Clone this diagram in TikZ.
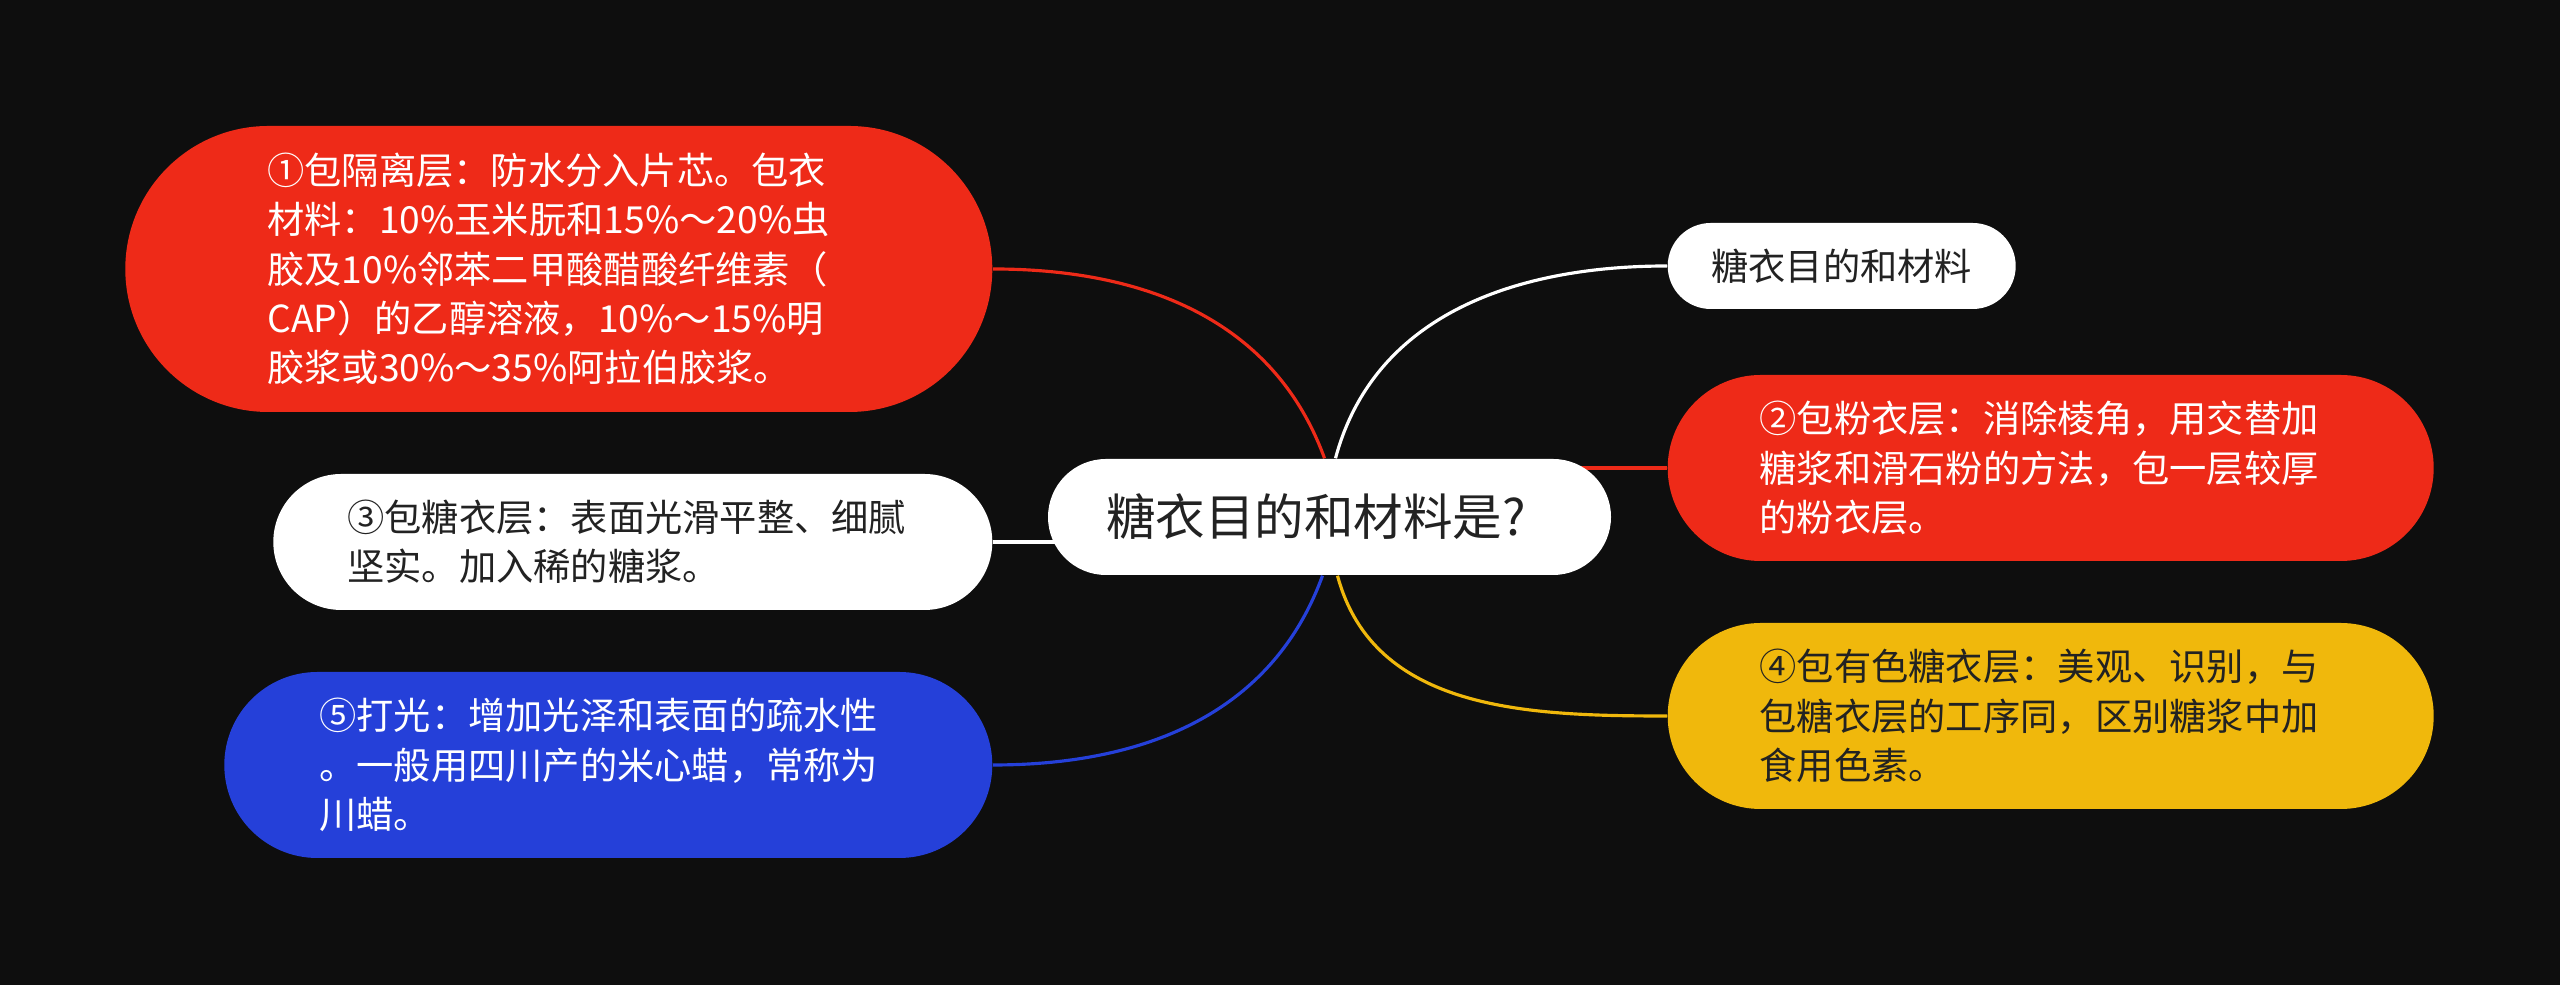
\documentclass[tikz,border=0pt]{standalone}
\usepackage{fontspec}
\newfontfamily\cjk{Noto Sans CJK SC}
\usetikzlibrary{positioning}

\definecolor{bgblack}{RGB}{14,14,14}
\definecolor{mapred}{RGB}{238,42,24}
\definecolor{mapblue}{RGB}{37,64,217}
\definecolor{mapyellow}{RGB}{240,184,12}
\definecolor{inkdark}{RGB}{34,34,34}

\pgfdeclarelayer{back}
\pgfdeclarelayer{links}
\pgfsetlayers{back,links,main}

\begin{document}
\begin{tikzpicture}[
    pill/.style={rounded corners=#1, inner sep=0pt, align=left,
      font=\cjk\fontsize{10.6}{14}\selectfont},
    link/.style={line width=0.9pt},
  ]
    \begin{pgfonlayer}{back}
        \fill[bgblack] (0,0) rectangle (25.6,9.85);
    \end{pgfonlayer}
    \useasboundingbox (0,0) rectangle (25.6,9.85);

    % centre
    \node[fill=white, text=inkdark, rounded corners=0.58cm, inner sep=0pt,
      minimum width=5.63cm, minimum height=1.16cm, text width=4.47cm, align=left,
      font=\cjk\fontsize{14.1}{16}\selectfont] (topic) at (13.295,4.68) {糖衣目的和材料是?};

    % right side
    \node[pill=0.43cm, fill=white, text=inkdark, minimum width=3.48cm,
      minimum height=0.86cm, anchor=west] (aim) at (16.67,7.19) {糖衣目的和材料};
    \node[pill=0.93cm, fill=mapred, text=white, minimum width=7.66cm,
      minimum height=1.86cm, text width=5.82cm, anchor=west] (powder) at (16.67,5.17)
      {②包粉衣层：消除棱角，用交替加\\糖浆和滑石粉的方法，包一层较厚\\的粉衣层。};
    \node[pill=0.93cm, fill=mapyellow, text=inkdark, minimum width=7.66cm,
      minimum height=1.86cm, text width=5.82cm, anchor=west] (colour) at (16.67,2.69)
      {④包有色糖衣层：美观、识别，与\\包糖衣层的工序同，区别糖浆中加\\食用色素。};

    % left side
    \node[pill=1.43cm, fill=mapred, text=white, minimum width=8.67cm,
      minimum height=2.86cm, text width=5.83cm, anchor=east] (isolate) at (9.93,7.16)
      {①包隔离层：防水分入片芯。包衣\\材料：10\%玉米朊和15\%～20\%虫\\胶及10\%邻苯二甲酸醋酸纤维素（\\CAP）的乙醇溶液，10\%～15\%明\\胶浆或30\%～35\%阿拉伯胶浆。};
    \node[pill=0.68cm, fill=white, text=inkdark, minimum width=7.19cm,
      minimum height=1.36cm, text width=5.71cm, anchor=east] (sugar) at (9.93,4.43)
      {③包糖衣层：表面光滑平整、细腻\\坚实。加入稀的糖浆。};
    \node[pill=0.93cm, fill=mapblue, text=white, minimum width=7.68cm,
      minimum height=1.86cm, text width=5.78cm, anchor=east] (polish) at (9.93,2.20)
      {⑤打光：增加光泽和表面的疏水性\\。一般用四川产的米心蜡，常称为\\川蜡。};

    % links
    \begin{pgfonlayer}{links}
        \draw[link, mapred] (isolate.east) to[out=0, in=110] ([xshift=-0.05cm]topic.north);
        \draw[link, white] ([xshift=0.06cm]topic.north) to[out=75, in=180] (aim.west);
        \draw[link, mapred] (topic.center |- powder.west) -- (powder.west);
        \draw[link, white] (sugar.east) -- (topic.center |- sugar.east);
        \draw[link, mapblue] (polish.east) to[out=0, in=-110] ([xshift=-0.07cm]topic.south);
        \draw[link, mapyellow] ([xshift=0.08cm]topic.south) to[out=-75, in=180] (colour.west);
    \end{pgfonlayer}
\end{tikzpicture}
\end{document}
